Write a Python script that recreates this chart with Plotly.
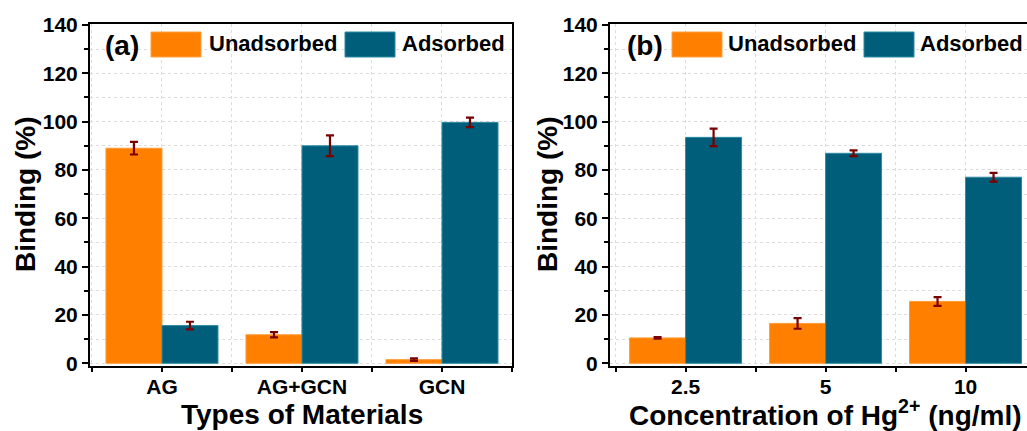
import plotly.graph_objects as go

# ---------------- data ----------------
materials = ["AG", "AG+GCN", "GCN"]
a_unadsorbed = [89.0, 11.8, 1.5]
a_unadsorbed_err = [2.6, 1.1, 0.5]
a_adsorbed = [15.6, 90.0, 99.7]
a_adsorbed_err = [1.6, 4.3, 2.0]

concentrations = ["2.5", "5", "10"]
b_unadsorbed = [10.5, 16.5, 25.6]
b_unadsorbed_err = [0.3, 2.2, 1.8]
b_adsorbed = [93.5, 86.9, 77.0]
b_adsorbed_err = [3.6, 1.2, 1.8]

y_ticks = [0, 20, 40, 60, 80, 100, 120, 140]

# ---------------- style ----------------
W, H = 1027, 431
ORANGE = "#FF8000"
BLUE = "#005E7A"
ERR = "#7A0000"
FONT = "Liberation Sans"
GRID = "#dcdcdc"


def px(x):
    return x / W


def py(y):
    return 1 - y / H


fig = go.Figure()

panels = [
    (materials, a_unadsorbed, a_unadsorbed_err, a_adsorbed, a_adsorbed_err, "x", "y"),
    (concentrations, b_unadsorbed, b_unadsorbed_err, b_adsorbed, b_adsorbed_err, "x2", "y2"),
]
for cats, un, une, ad, ade, xa, ya in panels:
    pos = list(range(len(cats)))
    fig.add_trace(go.Bar(
        x=pos, y=un, name="Unadsorbed", xaxis=xa, yaxis=ya,
        marker=dict(color=ORANGE, line=dict(color="#FF9A33", width=1)),
        error_y=dict(type="data", array=une, color=ERR, thickness=2.2, width=4),
        showlegend=False,
    ))
    fig.add_trace(go.Bar(
        x=pos, y=ad, name="Adsorbed", xaxis=xa, yaxis=ya,
        marker=dict(color=BLUE, line=dict(color="#2A8AA3", width=1)),
        error_y=dict(type="data", array=ade, color=ERR, thickness=2.2, width=4),
        showlegend=False,
    ))

tickfont = dict(family=FONT, size=21, color="black", weight="bold")
grid = dict(showgrid=True, gridcolor=GRID, griddash="dot", gridwidth=1)

y_dom = [py(366), py(24)]
y_rng = [-1.12, 140.41]

common_x = dict(
    tickmode="array", ticks="outside", ticklen=4, tickwidth=2, tickcolor="black",
    ticklabelstandoff=-3,
    showline=True, linecolor="black", linewidth=2, automargin=False,
    tickfont=tickfont, zeroline=False,
    minor=dict(tickmode="linear", tick0=0.5, dtick=1, ticks="outside", ticklen=4,
               tickwidth=2, tickcolor="black", showgrid=True, gridcolor=GRID,
               griddash="dot", gridwidth=1),
    **grid,
)
common_y = dict(
    tickmode="array", tickvals=y_ticks, ticks="outside", ticklen=6, tickwidth=2,
    tickcolor="black", showline=True, linecolor="black", linewidth=2, automargin=False,
    tickfont=tickfont, zeroline=False, range=y_rng, domain=y_dom,
    minor=dict(tickmode="linear", tick0=10, dtick=20, ticks="outside", ticklen=4,
               tickwidth=2, tickcolor="black", showgrid=True, gridcolor=GRID,
               griddash="dot", gridwidth=1),
    **grid,
)

fig.update_layout(
    width=W, height=H, autosize=False,
    margin=dict(l=0, r=0, t=0, b=0, pad=0, autoexpand=False),
    paper_bgcolor="white", plot_bgcolor="white",
    barmode="group", bargap=0.2, bargroupgap=0,
    showlegend=False,
    xaxis=dict(domain=[px(90), px(512)], range=[-0.514, 2.5], anchor="y",
               tickvals=list(range(len(materials))), ticktext=materials,
               mirror=True, **common_x),
    yaxis=dict(anchor="x", mirror=True, **common_y),
    xaxis2=dict(domain=[px(610), 1.0], range=[-0.54, 2.439], anchor="y2",
                tickvals=list(range(len(concentrations))), ticktext=concentrations,
                mirror=True, **common_x),
    yaxis2=dict(anchor="x2", mirror=False, **common_y),
)

# ---------------- legends / labels ----------------
shapes = []
annotations = []


def legend(label, sw1, t1, sw2, t2, lx):
    top, bot = 32, 57
    shapes.append(dict(type="rect", xref="paper", yref="paper",
                       x0=px(sw1), x1=px(sw1 + 50), y0=py(bot), y1=py(top),
                       fillcolor=ORANGE, line=dict(color="#FFA040", width=1)))
    shapes.append(dict(type="rect", xref="paper", yref="paper",
                       x0=px(sw2), x1=px(sw2 + 50), y0=py(bot), y1=py(top),
                       fillcolor=BLUE, line=dict(color="#2A8AA3", width=1)))
    annotations.append(dict(text=label, xref="paper", yref="paper", x=px(lx), y=py(45),
                            xanchor="left", yanchor="middle", showarrow=False,
                            font=dict(family=FONT, size=28, color="black", weight="bold")))
    annotations.append(dict(text="Unadsorbed", xref="paper", yref="paper", x=px(t1), y=py(44),
                            xanchor="left", yanchor="middle", showarrow=False,
                            font=dict(family=FONT, size=22, color="black", weight="bold")))
    annotations.append(dict(text="Adsorbed", xref="paper", yref="paper", x=px(t2), y=py(44),
                            xanchor="left", yanchor="middle", showarrow=False,
                            font=dict(family=FONT, size=22, color="black", weight="bold")))


legend("(a)", 151, 207, 345, 400, 103)
legend("(b)", 672, 726, 864, 918, 625)

title_font = dict(family=FONT, size=28, color="black", weight="bold")
annotations.append(dict(text="Types of Materials", xref="paper", yref="paper",
                        x=px(302), y=py(414), xanchor="center", yanchor="middle",
                        showarrow=False, font=title_font))
annotations.append(dict(text="Concentration of Hg<sup>2+</sup> (ng/ml)", xref="paper", yref="paper",
                        x=px(825), y=py(413), xanchor="center", yanchor="middle",
                        showarrow=False, font=title_font))
annotations.append(dict(text="Binding (%)", xref="paper", yref="paper",
                        x=px(25), y=py(194), xanchor="center", yanchor="middle",
                        textangle=-90, showarrow=False, font=title_font))
annotations.append(dict(text="Binding (%)", xref="paper", yref="paper",
                        x=px(547), y=py(194), xanchor="center", yanchor="middle",
                        textangle=-90, showarrow=False, font=title_font))

fig.update_layout(shapes=shapes, annotations=annotations)

fig.write_html("out.html")
